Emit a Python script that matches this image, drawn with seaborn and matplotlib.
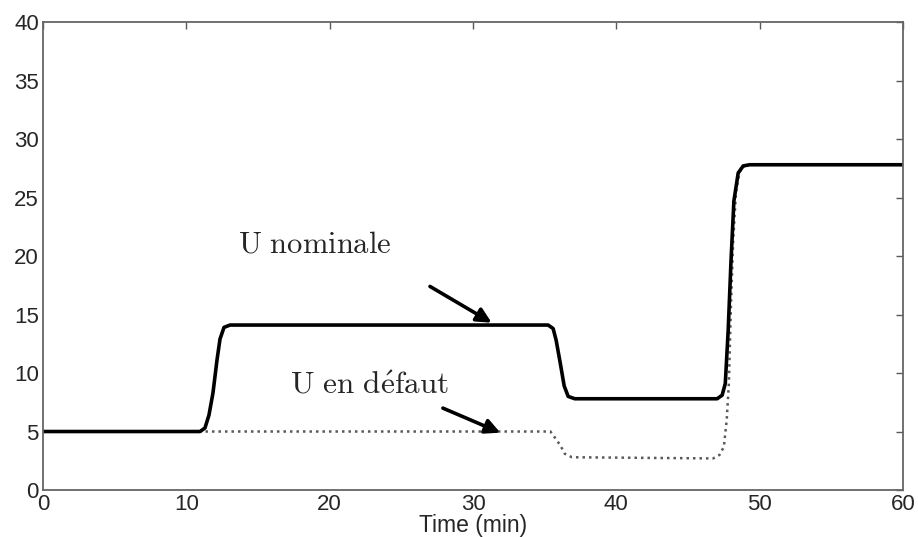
import matplotlib
matplotlib.use("Agg")
import matplotlib.pyplot as plt
import seaborn as sns
import pandas as pd

# U nominale (solid)
t_nom = [0, 10.96, 11.3, 11.58, 11.86, 12.14, 12.35, 12.63, 13.05,
         35.24, 35.59, 35.8, 36.08, 36.36, 36.64, 37.1,
         47.03, 47.38, 47.6, 47.8, 48.0, 48.2, 48.5, 48.85, 49.3, 60]
u_nom = [5.0, 5.0, 5.3, 6.4, 8.3, 11.1, 12.9, 13.9, 14.1,
         14.1, 13.8, 12.8, 10.9, 8.9, 8.0, 7.8,
         7.8, 8.1, 9.1, 13.6, 19.6, 24.7, 27.1, 27.7, 27.8, 27.8]

# U en défaut (dotted)
t_def = [0, 35.4, 35.7, 36.1, 36.4, 36.9,
         46.75, 47.2, 47.5, 47.7, 47.85, 48.0, 48.15, 48.35, 48.6, 49.0, 60]
u_def = [5.0, 5.0, 4.5, 3.8, 3.1, 2.8,
         2.7, 3.0, 3.7, 6.0, 9.1, 16.0, 21.3, 25.5, 27.2, 27.8, 27.8]

x_ticks = [0, 10, 20, 30, 40, 50, 60]
y_ticks = [0, 5, 10, 15, 20, 25, 30, 35, 40]

sns.set_style("white")
plt.rcParams["font.family"] = ["Liberation Sans", "DejaVu Sans"]
plt.rcParams["mathtext.fontset"] = "cm"

fig = plt.figure(figsize=(9.18, 5.37), dpi=100)
ax = fig.add_axes([0.0468, 0.0875, 0.9369, 0.8715])

df_def = pd.DataFrame({"t": t_def, "u": u_def})
df_nom = pd.DataFrame({"t": t_nom, "u": u_nom})
sns.lineplot(data=df_def, x="t", y="u", ax=ax, color="0.35", lw=1.8,
             linestyle=(0, (1, 1.6)), sort=False, estimator=None)
sns.lineplot(data=df_nom, x="t", y="u", ax=ax, color="black", lw=2.6,
             sort=False, estimator=None)

ax.set_xlim(0, 60)
ax.set_ylim(0, 40)
ax.set_xticks(x_ticks)
ax.set_yticks(y_ticks)
ax.tick_params(direction="in", length=5, width=1, color="0.35",
               top=True, right=True, labelsize=16, pad=3)
for s in ax.spines.values():
    s.set_color("0.4")
    s.set_linewidth(1.3)
ax.set_xlabel("Time (min)", fontsize=16.5, labelpad=-1)
ax.set_ylabel("")

ax.text(13.6, 21.0, r"$\mathrm{U\ nominale}$", fontsize=22, va="center", ha="left")
ax.text(17.2, 8.9, r"$\mathrm{U\ en\ d\acute{e}faut}$", fontsize=22.5, va="center", ha="left")

ap = dict(arrowstyle="-|>", lw=2.6, color="black", mutation_scale=22, shrinkA=0, shrinkB=0)
ax.annotate("", xy=(31.3, 14.3), xytext=(27.0, 17.4), arrowprops=ap)
ax.annotate("", xy=(31.9, 4.9), xytext=(27.9, 7.0), arrowprops=ap)

fig.savefig("out.png", dpi=100)
